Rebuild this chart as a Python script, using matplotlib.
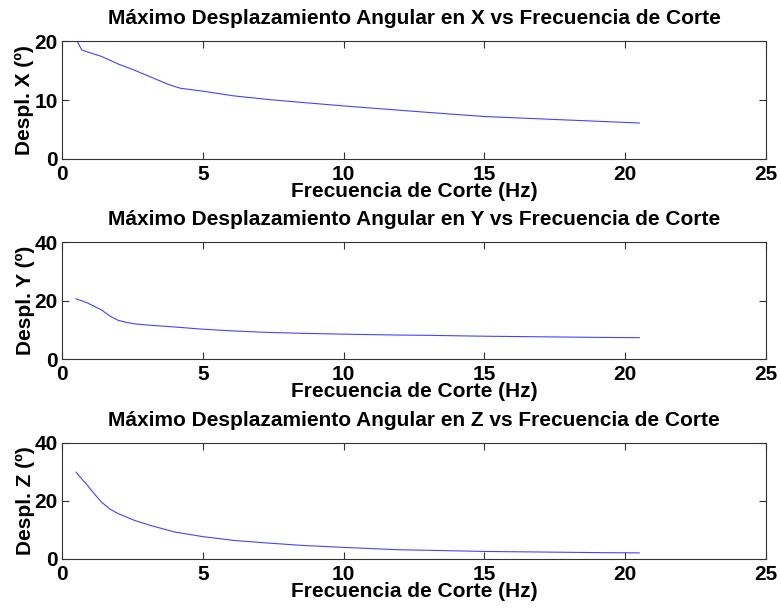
import numpy as np
import matplotlib
matplotlib.use("Agg")
import matplotlib.pyplot as plt

plt.rcParams['font.family'] = ['Liberation Sans', 'DejaVu Sans']
plt.rcParams['font.weight'] = 'bold'

# frecuencia de corte (Hz) y desplazamiento maximo (grados)
freq_x = [0.5, 0.7, 1.0, 1.4, 2.0, 2.6, 3.2, 3.8, 4.2, 5.0, 6.1, 7.3, 8.5, 10.0, 11.9, 13.0, 15.0, 17.0, 19.0, 20.5]
despl_x = [20.3, 18.5, 18.0, 17.4, 16.1, 15.0, 13.8, 12.6, 12.0, 11.5, 10.7, 10.1, 9.6, 9.0, 8.3, 7.9, 7.2, 6.8, 6.4, 6.1]

freq_y = [0.5, 0.9, 1.4, 1.7, 2.0, 2.3, 2.6, 3.2, 3.8, 5.0, 6.1, 7.3, 8.5, 10.0, 11.9, 13.0, 15.0, 17.0, 19.0, 20.5]
despl_y = [20.6, 19.2, 16.8, 14.7, 13.2, 12.5, 12.0, 11.5, 11.1, 10.2, 9.6, 9.1, 8.8, 8.5, 8.2, 8.1, 7.8, 7.6, 7.4, 7.3]

freq_z = [0.5, 0.7, 0.9, 1.1, 1.4, 1.7, 2.0, 2.6, 3.2, 4.0, 5.0, 6.1, 7.3, 8.5, 10.0, 11.9, 13.0, 15.0, 17.0, 19.0, 20.5]
despl_z = [29.9, 27.6, 25.4, 23.0, 19.6, 17.2, 15.6, 13.2, 11.4, 9.3, 7.7, 6.4, 5.5, 4.7, 4.0, 3.2, 3.0, 2.6, 2.4, 2.2, 2.1]

series = [
    ("X", freq_x, despl_x, [0, 20], [0, 10, 20]),
    ("Y", freq_y, despl_y, [0, 40], [0, 20, 40]),
    ("Z", freq_z, despl_z, [0, 40], [0, 20, 40]),
]

fig = plt.figure(figsize=(7.81, 6.08), dpi=100)
bottoms = [0.7385, 0.4095, 0.0806]
heights = [0.194, 0.1924, 0.191]

for (eje, f, d, ylim, yt), b, h in zip(series, bottoms, heights):
    ax = fig.add_axes([0.0794, b, 0.9014, h])
    ax.plot(f, d, color='#4444ff', lw=0.8)
    ax.set_xlim(0, 25)
    ax.set_ylim(*ylim)
    ax.set_xticks([0, 5, 10, 15, 20, 25])
    ax.set_yticks(yt)
    ax.tick_params(direction='in', top=True, right=True, length=5, width=0.8,
                   labelsize=15, color='#333333')
    ax.tick_params(axis='x', pad=4)
    ax.tick_params(axis='y', pad=3)
    for lab in ax.get_xticklabels() + ax.get_yticklabels():
        lab.set_fontweight('bold')
    for s in ax.spines.values():
        s.set_color('#333333')
        s.set_linewidth(0.8)
    ax.set_title("Máximo Desplazamiento Angular en %s vs Frecuencia de Corte" % eje,
                 fontsize=15, fontweight='bold', pad=12)
    ax.set_xlabel("Frecuencia de Corte (Hz)", fontsize=15, fontweight='bold', labelpad=-1)
    ax.set_ylabel("Despl. %s (º)" % eje, fontsize=15, fontweight='bold', labelpad=0)

fig.savefig("out.png", dpi=100)
